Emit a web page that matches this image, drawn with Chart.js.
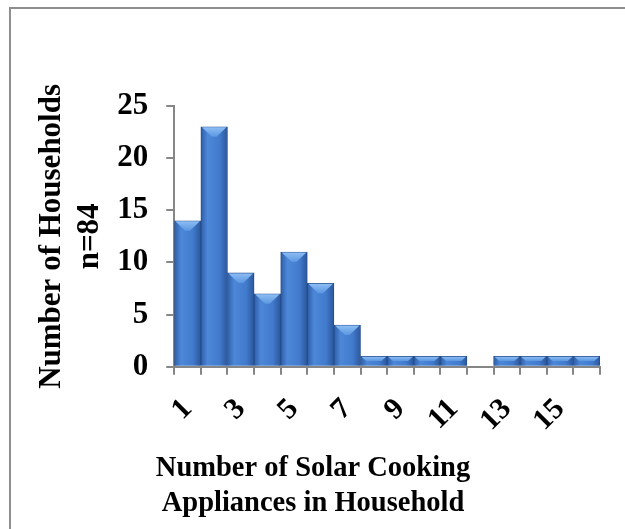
<!DOCTYPE html>
<html>
<head>
<meta charset="utf-8">
<script src="https://cdn.jsdelivr.net/npm/chart.js@4"></script>
<style>
  html, body { margin: 0; padding: 0; background: #fff; overflow: hidden; }
  #frame {
    position: absolute; left: 9px; top: 7px;
    width: 700px; height: 600px;
    border: 2px solid #8e8e8e;
  }
  #wrap { position: absolute; left: 0; top: 0; width: 625px; height: 529px; }
</style>
</head>
<body>
<div id="frame"></div>
<div id="wrap"><canvas id="chart"></canvas></div>
<script>
// Solar cooking appliances per household (n=84)
const categories = ['1', '2', '3', '4', '5', '6', '7', '8', '9', '10', '11', '12', '13', '14', '15', '16'];
const households = [14, 23, 9, 7, 11, 8, 4, 1, 1, 1, 1, 0, 1, 1, 1, 1];
const yTicks = [0, 5, 10, 15, 20, 25];

const serif = "'Liberation Serif', 'Times New Roman', serif";
const axisGray = '#868686';

// vertical shading across each bar, darker at the edges
function barFill(context) {
  const chart = context.chart;
  const area = chart.chartArea;
  if (!area) return '#3d72c4';
  const x = chart.scales.x.getPixelForValue(context.dataIndex);
  const w = (area.right - area.left) / categories.length;
  const g = chart.ctx.createLinearGradient(x - w / 2, 0, x + w / 2, 0);
  g.addColorStop(0, '#2e5ea7');
  g.addColorStop(0.25, '#4c87d8');
  g.addColorStop(0.7, '#427bcd');
  g.addColorStop(1, '#2b579b');
  return g;
}

// lighter bevel on top of every bar
const bevel = {
  id: 'bevel',
  afterDatasetsDraw(chart) {
    const ctx = chart.ctx;
    chart.getDatasetMeta(0).data.forEach((bar) => {
      const h = bar.base - bar.y;
      if (h <= 0) return;
      const half = bar.width / 2;
      const d = Math.min(10, h / 2);
      const g = ctx.createLinearGradient(0, bar.y, 0, bar.y + d);
      g.addColorStop(0, '#8fc0f5');
      g.addColorStop(1, '#5b96e0');
      ctx.save();
      ctx.beginPath();
      ctx.moveTo(bar.x - half + 1, bar.y + 0.5);
      ctx.lineTo(bar.x + half - 1, bar.y + 0.5);
      ctx.lineTo(bar.x + half - 1 - d, bar.y + d);
      ctx.lineTo(bar.x - half + 1 + d, bar.y + d);
      ctx.closePath();
      ctx.fillStyle = g;
      ctx.fill();
      ctx.restore();
    });
  },
};

new Chart(document.getElementById('chart'), {
  type: 'bar',
  data: {
    labels: categories,
    datasets: [{
      data: households,
      backgroundColor: barFill,
      borderColor: '#254d8c',
      borderWidth: 1,
      categoryPercentage: 1,
      barPercentage: 1,
    }],
  },
  options: {
    responsive: true,
    maintainAspectRatio: false,
    animation: false,
    layout: { padding: { top: 106, right: 25, left: 26, bottom: 0 } },
    plugins: {
      legend: { display: false },
      tooltip: { enabled: false },
      title: {
        display: true,
        position: 'bottom',
        text: ['Number of Solar Cooking', 'Appliances in Household'],
        color: '#000',
        font: { family: serif, size: 28.5, weight: 'bold', lineHeight: 1.22 },
        padding: { top: 3, bottom: 8 },
      },
    },
    scales: {
      x: {
        offset: true,
        afterFit: (scale) => {
          scale.height -= 7;
          scale.paddingLeft = 0;
          scale.paddingRight = 0;
        },
        grid: {
          offset: true,
          drawOnChartArea: false,
          color: axisGray,
          lineWidth: 2,
          tickLength: 8,
        },
        border: { color: axisGray, width: 2 },
        ticks: {
          autoSkip: false,
          minRotation: 45,
          maxRotation: 45,
          padding: 17,
          color: '#000',
          font: { family: serif, size: 30, weight: 'bold' },
          callback: (value, i) => (i % 2 === 0 ? categories[i] : ''),
        },
      },
      y: {
        min: 0,
        max: 25,
        afterBuildTicks: (scale) => { scale.ticks = yTicks.map((v) => ({ value: v })); },
        afterFit: (scale) => { scale.width -= 19; },
        grid: {
          drawOnChartArea: false,
          color: axisGray,
          lineWidth: 2,
          tickLength: 8,
        },
        border: { color: axisGray, width: 2 },
        ticks: {
          padding: 18,
          color: '#000',
          font: { family: serif, size: 31, weight: 'bold' },
        },
        title: {
          display: true,
          text: ['Number of Households', 'n=84'],
          color: '#000',
          font: { family: serif, size: 31, weight: 'bold', lineHeight: 1.23 },
          padding: { top: 7, bottom: 9 },
        },
      },
    },
  },
  plugins: [bevel],
});
</script>
</body>
</html>
